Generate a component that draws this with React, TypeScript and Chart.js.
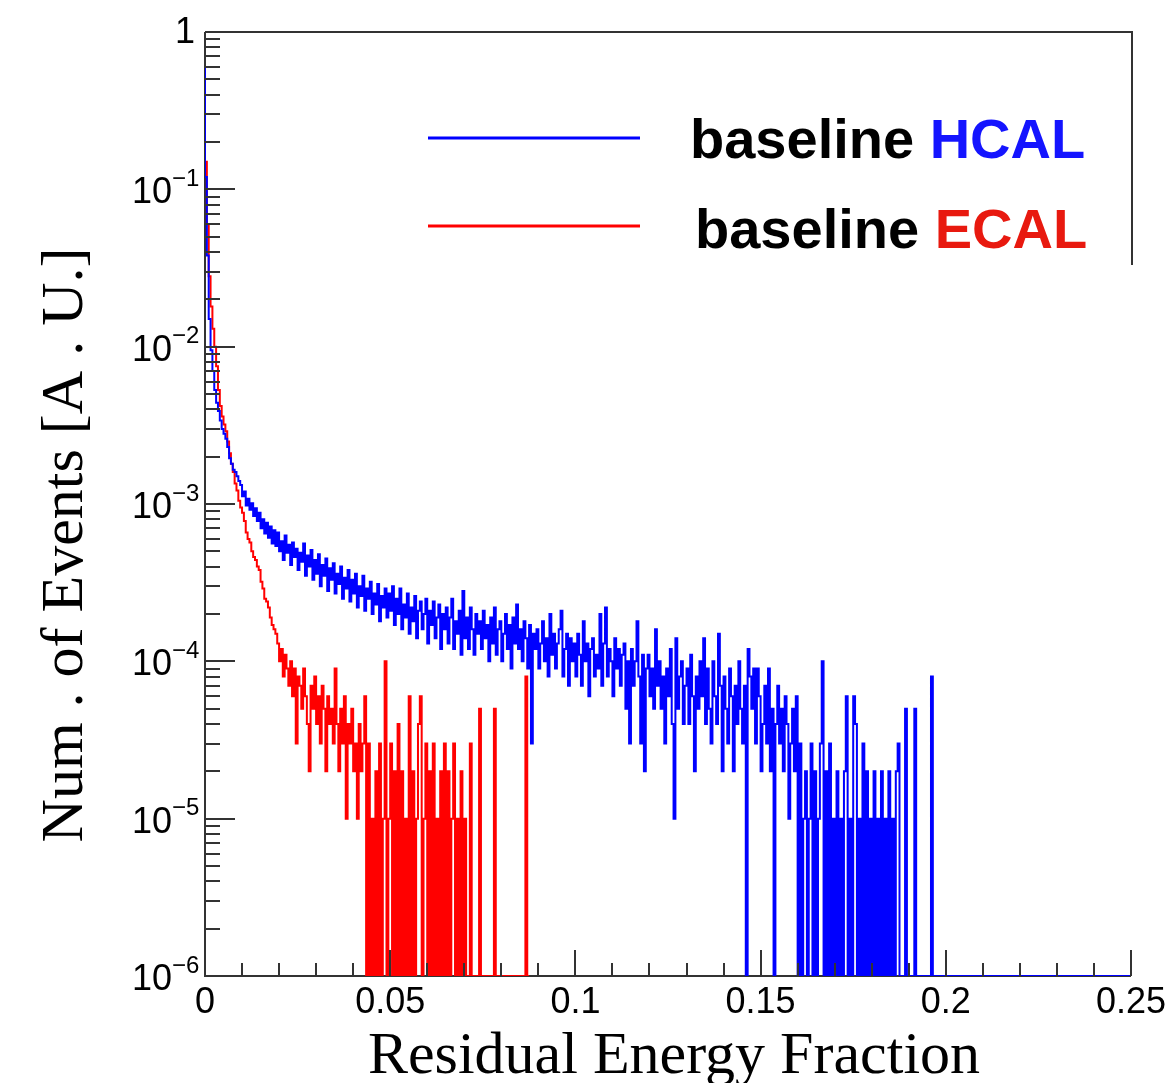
import React, { useEffect, useRef } from "react";
import { Chart, registerables } from "chart.js";

Chart.register(...registerables);

// ------------------------------------------------------------------
// Data (histograms, bin width 0.0005, counts in events; 1 event = 1e-5 A.U.)
// ------------------------------------------------------------------
const BIN_WIDTH = 0.0005;
const EVENT_WEIGHT = 1e-5;
const X_MIN = 0;
const X_MAX = 0.25;
const Y_MIN = 1e-6;
const Y_MAX = 1;

const X_MAJOR_TICKS = [0, 0.05, 0.1, 0.15, 0.2, 0.25];
const X_TICK_LABELS = ["0", "0.05", "0.1", "0.15", "0.2", "0.25"];
const X_MINOR_STEP = 0.01;
const Y_DECADES = [0, -1, -2, -3, -4, -5, -6];
const Y_TICK_BASES = ["1", "10", "10", "10", "10", "10", "10"];
const Y_TICK_EXPONENTS = ["", "\u22121", "\u22122", "\u22123", "\u22124", "\u22125", "\u22126"];

const SERIES_NAMES = ["HCAL", "ECAL"];
const LEGEND_PREFIX = "baseline ";
const X_TITLE = "Residual Energy Fraction";
const Y_TITLE = "Num . of Events [A . U.]";

// HCAL: bins 0 .. 393 (bins beyond are empty)
const HCAL_COUNTS = [
  59000, 12000, 3800, 1500, 950, 700, 530, 440, 390, 340,
  300, 280, 260, 230, 195, 180, 165, 160, 150, 140,
  132, 112, 120, 98, 108, 92, 101, 84, 94, 78,
  88, 70, 80, 65, 76, 61, 72, 56, 68, 54,
  66, 50, 58, 44, 63, 49, 55, 41, 57, 46,
  52, 38, 49, 43, 56, 35, 47, 40, 51, 33,
  44, 36, 48, 30, 41, 35, 45, 28, 39, 33,
  42, 27, 36, 31, 40, 25, 34, 29, 38, 24,
  33, 27, 36, 22, 30, 26, 35, 21, 29, 25,
  32, 20, 27, 23, 31, 18, 26, 22, 29, 19,
  27, 21, 30, 17, 25, 20, 29, 16, 23, 19,
  27, 15, 22, 18, 26, 14, 21, 24, 16, 20,
  25, 13, 21, 17, 24, 14, 19, 23, 12, 20,
  16, 22, 13, 19, 25, 12, 18, 15, 21, 11,
  28, 14, 19, 12, 22, 16, 11, 20, 15, 18,
  12, 21, 14, 17, 10, 19, 13, 22, 11, 16,
  18, 10, 15, 20, 12, 17, 9, 19, 13, 23,
  12, 16, 10, 18, 14, 9, 17, 3, 15, 12,
  16, 9, 13, 18, 10, 14, 8, 20, 11, 15,
  9, 13, 16, 21, 8, 12, 15, 7, 14, 10,
  13, 8, 15, 11, 7, 18, 10, 13, 6, 12,
  14, 8, 11, 9, 20, 7, 13, 22, 8, 12,
  10, 6, 14, 9, 12, 7, 11, 13, 5, 10,
  3, 12, 7, 10, 18, 8, 3, 11, 2, 9,
  11, 6, 9, 5, 16, 7, 10, 5, 8, 3,
  9, 6, 12, 4, 1, 14, 5, 8, 10, 4,
  7, 9, 4, 11, 6, 2, 8, 5, 10, 6,
  14, 4, 9, 5, 3, 10, 6, 4, 15, 7,
  2, 8, 5, 3, 9, 6, 2, 7, 4, 10,
  5, 3, 7, 0, 12, 8, 5, 9, 3, 9,
  6, 2, 4, 7, 3, 9, 2, 5, 0, 4,
  7, 3, 5, 2, 6, 4, 1, 3, 5, 2,
  6, 0, 3, 0, 1, 2, 0, 1, 3, 0,
  2, 0, 1, 3, 10, 0, 2, 0, 3, 0,
  1, 0, 2, 0, 1, 0, 2, 6, 0, 1,
  0, 6, 4, 0, 1, 0, 3, 0, 2, 0,
  1, 0, 2, 0, 1, 0, 2, 0, 1, 0,
  2, 0, 1, 0, 2, 3, 0, 0, 0, 5,
  0, 0, 0, 0, 5, 0, 0, 0, 0, 0,
  0, 0, 0, 8,
];

// ECAL: bins 0 .. 174
const ECAL_COUNTS = [
  45000, 15000, 6000, 2800, 1800, 1300, 1000, 750, 530, 420,
  360, 320, 290, 250, 210, 180, 160, 135, 122, 105,
  95, 88, 78, 66, 60, 57, 50, 46, 44, 40,
  38, 32, 29, 25, 24, 22, 19, 17, 16, 15,
  13, 10, 12, 8, 11, 9, 7, 10, 6, 9,
  3, 8, 7, 5, 9, 6, 4, 2, 7, 5,
  8, 4, 6, 3, 7, 5, 2, 6, 4, 5,
  3, 9, 4, 2, 5, 3, 6, 1, 4, 3,
  5, 2, 3, 1, 4, 2, 3, 6, 0, 3,
  0, 1, 0, 2, 0, 3, 0, 1, 10, 0,
  1, 3, 0, 2, 0, 4, 0, 2, 0, 1,
  0, 6, 0, 2, 0, 1, 4, 6, 0, 1,
  3, 0, 2, 0, 3, 0, 1, 0, 2, 0,
  3, 0, 2, 0, 1, 3, 0, 1, 0, 2,
  0, 1, 0, 0, 3, 0, 0, 0, 0, 5,
  0, 0, 0, 0, 0, 0, 0, 5, 0, 0,
  0, 0, 0, 0, 0, 0, 0, 0, 0, 0,
  0, 0, 0, 0, 8,
];

// ------------------------------------------------------------------
// Styling
// ------------------------------------------------------------------
const HCAL_COLOR = "#0000ff";
const ECAL_COLOR = "#ff0000";
const HCAL_TEXT_COLOR = "#1414ff";
const ECAL_TEXT_COLOR = "#e8190f";
const FRAME_COLOR = "#333333";
const CANVAS_W = 1169;
const CANVAS_H = 1083;
const AREA = { left: 205, top: 32, right: 1131, bottom: 976 };

// empty bins are drawn on the axis floor, as ROOT does
function histogramPoints(counts: number[], xEnd: number) {
  const pts = counts.map((c, i) => ({
    x: i * BIN_WIDTH,
    y: c > 0 ? c * EVENT_WEIGHT : Y_MIN,
  }));
  const edge = counts.length * BIN_WIDTH;
  pts.push({ x: edge, y: Y_MIN });
  if (xEnd > edge) pts.push({ x: xEnd, y: Y_MIN });
  return pts;
}

const rootStylePlugin = {
  id: "rootStyle",
  beforeDatasetsDraw(chart: any) {
    const { ctx, chartArea: a } = chart;
    ctx.save();
    ctx.strokeStyle = FRAME_COLOR;
    ctx.lineWidth = 2;
    ctx.beginPath();
    ctx.moveTo(a.left, a.top);
    ctx.lineTo(a.left, a.bottom);
    ctx.lineTo(a.right, a.bottom);
    ctx.moveTo(a.left, a.top);
    ctx.lineTo(a.right + 1, a.top);
    ctx.lineTo(a.right + 1, a.top + 233);
    ctx.stroke();
    ctx.restore();
  },
  afterDatasetsDraw(chart: any) {
    const { ctx, chartArea: a } = chart;
    const xs = chart.scales.x;
    const ys = chart.scales.y;
    ctx.save();
    ctx.strokeStyle = FRAME_COLOR;
    ctx.lineWidth = 2;
    ctx.beginPath();
    // x ticks
    const nMinor = Math.round((X_MAX - X_MIN) / X_MINOR_STEP);
    for (let k = 0; k <= nMinor; k++) {
      const v = X_MIN + k * X_MINOR_STEP;
      const px = Math.round(xs.getPixelForValue(v));
      const major = k % 5 === 0;
      ctx.moveTo(px, a.bottom);
      ctx.lineTo(px, a.bottom - (major ? 26 : 13));
    }
    // y ticks
    Y_DECADES.forEach((d) => {
      const py = Math.round(ys.getPixelForValue(Math.pow(10, d)));
      ctx.moveTo(a.left, py);
      ctx.lineTo(a.left + 30, py);
      if (d < 0) {
        for (let m = 2; m <= 9; m++) {
          const pm = Math.round(ys.getPixelForValue(m * Math.pow(10, d)));
          ctx.moveTo(a.left, pm);
          ctx.lineTo(a.left + 15, pm);
        }
      }
    });
    ctx.stroke();

    // x tick labels
    ctx.fillStyle = "#000";
    ctx.font = '36px "Liberation Sans", Arial, sans-serif';
    ctx.textAlign = "center";
    ctx.textBaseline = "middle";
    X_MAJOR_TICKS.forEach((v, i) => {
      ctx.fillText(X_TICK_LABELS[i], xs.getPixelForValue(v), a.bottom + 27);
    });

    // y tick labels
    Y_DECADES.forEach((d, i) => {
      const py = ys.getPixelForValue(Math.pow(10, d));
      ctx.font = '36px "Liberation Sans", Arial, sans-serif';
      ctx.textAlign = "right";
      ctx.textBaseline = "middle";
      if (!Y_TICK_EXPONENTS[i]) {
        ctx.fillText(Y_TICK_BASES[i], a.left - 10, py + 1);
      } else {
        ctx.fillText(Y_TICK_BASES[i], a.left - 33, py + 4);
        ctx.font = '24px "Liberation Sans", Arial, sans-serif';
        ctx.textAlign = "left";
        ctx.fillText(Y_TICK_EXPONENTS[i], a.left - 33, py - 10);
      }
    });

    // axis titles
    ctx.font = '60px "Liberation Serif", "Times New Roman", serif';
    ctx.textAlign = "center";
    ctx.textBaseline = "alphabetic";
    ctx.fillText(X_TITLE, 674, 1073);
    ctx.save();
    ctx.translate(82, 545);
    ctx.rotate(-Math.PI / 2);
    ctx.fillText(Y_TITLE, 0, 0);
    ctx.restore();

    // legend
    const legend = [
      { name: SERIES_NAMES[0], line: HCAL_COLOR, text: HCAL_TEXT_COLOR, ly: 138, ty: 158, tx: 690 },
      { name: SERIES_NAMES[1], line: ECAL_COLOR, text: ECAL_TEXT_COLOR, ly: 226, ty: 248, tx: 695 },
    ];
    legend.forEach((l) => {
      ctx.strokeStyle = l.line;
      ctx.lineWidth = 3;
      ctx.beginPath();
      ctx.moveTo(428, l.ly);
      ctx.lineTo(640, l.ly);
      ctx.stroke();
      ctx.font = 'bold 56px "Liberation Sans", Arial, sans-serif';
      ctx.textAlign = "left";
      ctx.textBaseline = "alphabetic";
      ctx.fillStyle = "#000";
      ctx.fillText(LEGEND_PREFIX, l.tx, l.ty);
      const w = ctx.measureText(LEGEND_PREFIX).width;
      ctx.fillStyle = l.text;
      ctx.fillText(l.name, l.tx + w, l.ty);
    });
    ctx.restore();
  },
};

export default function App() {
  const ref = useRef<HTMLCanvasElement>(null);
  useEffect(() => {
    if (!ref.current) return;
    const chart = new Chart(ref.current, {
      type: "line",
      data: {
        datasets: [
          {
            label: LEGEND_PREFIX + SERIES_NAMES[0],
            data: histogramPoints(HCAL_COUNTS, X_MAX),
            borderColor: HCAL_COLOR,
            borderWidth: 2,
            pointRadius: 0,
            stepped: "after",
            fill: false,
            order: 0,
          },
          {
            label: LEGEND_PREFIX + SERIES_NAMES[1],
            data: histogramPoints(ECAL_COUNTS, 0),
            borderColor: ECAL_COLOR,
            borderWidth: 2,
            pointRadius: 0,
            stepped: "after",
            fill: false,
            order: 1,
          },
        ],
      },
      options: {
        animation: false,
        responsive: false,
        events: [],
        layout: {
          padding: {
            left: AREA.left,
            top: AREA.top,
            right: CANVAS_W - AREA.right,
            bottom: CANVAS_H - AREA.bottom,
          },
        },
        plugins: {
          legend: { display: false },
          tooltip: { enabled: false },
          title: { display: false },
        },
        scales: {
          x: { type: "linear", min: X_MIN, max: X_MAX, display: false },
          y: { type: "logarithmic", min: Y_MIN, max: Y_MAX, display: false },
        },
      },
      plugins: [rootStylePlugin],
    } as any);
    return () => chart.destroy();
  }, []);
  return (
    <canvas
      ref={ref}
      width={CANVAS_W}
      height={CANVAS_H}
      style={{
        display: "block",
        position: "absolute",
        left: 0,
        top: 0,
        width: CANVAS_W,
        height: CANVAS_H,
      }}
    />
  );
}
